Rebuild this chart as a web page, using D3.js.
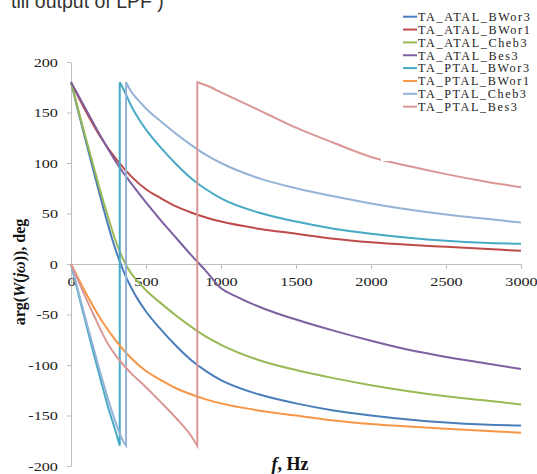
<!DOCTYPE html>
<html lang="en">
<head>
<meta charset="UTF-8">
<script src="https://d3js.org/d3.v7.min.js"></script>
<style>
  body { margin: 0; background: #fff; }
  svg { display: block; }
</style>
</head>
<body>
<div id="chart"></div>
<script>
// ATAL series: frequency (Hz) and phase (deg)
const ataBWor3Freq = [0, 50, 100, 150, 200, 250, 300, 350, 400, 450, 500, 600, 700, 800, 900, 1000, 1250, 1500, 1750, 2000, 2250, 2500, 2750, 3000];
const ataBWor3Val  = [180, 150, 121, 92, 64, 37, 13, -7, -23, -36, -47, -65, -81, -95, -106, -115, -129, -138, -145, -150, -154, -157, -159, -160];

const ataBWor1Freq = [0, 100, 200, 300, 400, 500, 600, 700, 800, 900, 1000, 1250, 1500, 1750, 2000, 2250, 2500, 2750, 3000];
const ataBWor1Val  = [180, 151, 125, 104, 87, 74, 65, 57, 51, 46, 42, 35, 30, 25, 21.5, 19, 17, 15, 13];

const ataCheb3Freq = [0, 50, 100, 150, 200, 250, 300, 350, 400, 450, 500, 600, 700, 800, 900, 1000, 1250, 1500, 1750, 2000, 2250, 2500, 2750, 3000];
const ataCheb3Val  = [180, 152, 124, 97, 70, 45, 22, 4, -9, -18, -26, -39, -51, -62, -72, -80, -95, -105, -113, -120, -126, -131, -135, -139];

const ataBes3Freq = [0, 100, 200, 300, 400, 500, 600, 700, 800, 900, 1000, 1100, 1200, 1300, 1500, 1750, 2000, 2250, 2500, 2750, 3000];
const ataBes3Val  = [180, 153, 126, 101, 80, 61, 43, 26, 9, -7, -24, -32, -39, -45, -55, -66, -76, -85, -92, -98, -104];

// PTAL series: the ones that wrap jump from -180 to +180
const ptaBWor1Freq = [0, 100, 200, 300, 400, 500, 600, 700, 800, 900, 1000, 1250, 1500, 1750, 2000, 2250, 2500, 2750, 3000];
const ptaBWor1Val  = [0, -29, -55, -76, -93, -106, -115, -123, -129, -134, -138, -145, -150, -155, -158.5, -161, -163, -165, -167];

const ptaBWor3Freq1 = [0, 50, 100, 150, 200, 250, 300, 325];
const ptaBWor3Val1  = [0, -30, -59, -88, -116, -143, -167, -180];
const ptaBWor3Freq2 = [325, 350, 400, 450, 500, 600, 700, 800, 900, 1000, 1250, 1500, 1750, 2000, 2250, 2500, 2750, 3000];
const ptaBWor3Val2  = [180, 173, 157, 144, 133, 115, 99, 85, 74, 65, 51, 42, 35, 30, 26, 23, 21, 20];

const ptaCheb3Freq1 = [0, 50, 100, 150, 200, 250, 300, 350, 367];
const ptaCheb3Val1  = [0, -28, -56, -83, -110, -135, -158, -176, -180];
const ptaCheb3Freq2 = [367, 400, 450, 500, 600, 700, 800, 900, 1000, 1250, 1500, 1750, 2000, 2250, 2500, 2750, 3000];
const ptaCheb3Val2  = [180, 171, 162, 154, 141, 129, 118, 108, 100, 85, 75, 67, 60, 54, 49, 45, 41];

const ptaBes3Freq1 = [0, 50, 100, 150, 200, 250, 300, 350, 400, 500, 600, 700, 800, 842];
const ptaBes3Val1  = [0, -17, -34, -50, -66, -80, -91, -100, -108, -122, -137, -152.5, -170, -180];
const ptaBes3Freq2 = [842, 900, 1000, 1100, 1200, 1300, 1500, 1750, 2000, 2250, 2500, 2750, 3000];
const ptaBes3Val2  = [180, 177, 170, 163, 156, 149, 135, 120, 106, 97, 89, 82, 76];

const xTicks = [0, 500, 1000, 1500, 2000, 2500, 3000];
const yTicks = [-200, -150, -100, -50, 0, 50, 100, 150, 200];

const zip = (fs, vs) => fs.map((f, i) => ({f: f, v: vs[i]}));

const series = [
  {name: "TA_ATAL_BWor3", color: "#4a7ebb", parts: [zip(ataBWor3Freq, ataBWor3Val)]},
  {name: "TA_ATAL_BWor1", color: "#be4b48", parts: [zip(ataBWor1Freq, ataBWor1Val)]},
  {name: "TA_ATAL_Cheb3", color: "#98b954", parts: [zip(ataCheb3Freq, ataCheb3Val)]},
  {name: "TA_ATAL_Bes3",  color: "#7d60a0", parts: [zip(ataBes3Freq, ataBes3Val)]},
  {name: "TA_PTAL_BWor3", color: "#46aac5", parts: [zip(ptaBWor3Freq1, ptaBWor3Val1), zip(ptaBWor3Freq2, ptaBWor3Val2)]},
  {name: "TA_PTAL_BWor1", color: "#f79646", parts: [zip(ptaBWor1Freq, ptaBWor1Val)]},
  {name: "TA_PTAL_Cheb3", color: "#95b3d7", parts: [zip(ptaCheb3Freq1, ptaCheb3Val1), zip(ptaCheb3Freq2, ptaCheb3Val2)]},
  {name: "TA_PTAL_Bes3",  color: "#d99795", parts: [zip(ptaBes3Freq1, ptaBes3Val1), zip(ptaBes3Freq2, ptaBes3Val2)]}
];

const serif = "'Liberation Serif', 'Times New Roman', serif";

const svg = d3.select("#chart")
  .append("svg")
  .attr("width", 537)
  .attr("height", 474);

const x = d3.scaleLinear().domain([0, 3000]).range([71, 521]);
const y = d3.scaleLinear().domain([-200, 200]).range([466, 62]);

// cropped caption at the top
svg.append("text")
  .attr("x", 11)
  .attr("y", 8)
  .style("font-family", "'Liberation Sans', Arial, sans-serif")
  .style("font-size", "19.5px")
  .style("fill", "#333")
  .text("till output of LPF )");

const yAxis = svg.append("g")
  .attr("transform", `translate(${x(0)},0)`)
  .call(d3.axisLeft(y).tickValues(yTicks).tickSize(4).tickSizeOuter(0).tickPadding(9).tickFormat(d => String(d)));

const xAxis = svg.append("g")
  .attr("transform", `translate(0,${y(0)})`)
  .call(d3.axisBottom(x).tickValues(xTicks).tickSize(5).tickSizeOuter(0).tickPadding(8).tickFormat(d => String(d)));

[yAxis, xAxis].forEach(function(g) {
  g.selectAll("path, line").attr("stroke", "#bfbfbf");
  g.selectAll("text")
    .style("font-family", serif)
    .style("font-size", "12.5px")
    .style("fill", "#222");
});

// the picture is a bit wide, so stretch tick labels horizontally
yAxis.selectAll(".tick text").each(function() {
  const t = d3.select(this);
  const tx = +t.attr("x");
  t.attr("x", 0).attr("transform", `translate(${tx},0) scale(1.3,1)`);
});
xAxis.selectAll(".tick text").attr("transform", "scale(1.3,1)");

const line = d3.line()
  .x(d => x(d.f))
  .y(d => y(d.v))
  .curve(d3.curveMonotoneX);

svg.append("g")
  .selectAll("path")
  .data(series)
  .join("path")
  .attr("fill", "none")
  .attr("stroke", d => d.color)
  .attr("stroke-width", 2)
  .attr("d", d => d.parts.map((p, i) => i == 0 ? line(p) : line(p).replace(/^M/, "L")).join(""));

// legend
const legend = svg.append("g");
legend.append("rect")
  .attr("x", 381).attr("y", 2)
  .attr("width", 156).attr("height", 159)
  .attr("fill", "#fff");

const rows = legend.selectAll("g")
  .data(series)
  .join("g")
  .attr("transform", (d, i) => `translate(0,${16.7 + i * 12.85})`);

rows.append("line")
  .attr("x1", 403).attr("x2", 417)
  .attr("stroke", d => d.color)
  .attr("stroke-width", 2);

rows.append("text")
  .attr("x", 418)
  .attr("dy", "0.35em")
  .style("font-family", serif)
  .style("font-size", "12.2px")
  .style("letter-spacing", "1.6px")
  .style("fill", "#222")
  .text(d => d.name);

// axis titles
const yTitle = svg.append("text")
  .attr("transform", "translate(25,272) rotate(-90)")
  .attr("text-anchor", "middle")
  .style("font-family", serif)
  .style("font-size", "16px")
  .style("font-weight", "bold")
  .style("fill", "#111");
yTitle.append("tspan").text("arg(");
yTitle.append("tspan").style("font-style", "italic").text("W");
yTitle.append("tspan").text("(");
yTitle.append("tspan").style("font-style", "italic").text("jω");
yTitle.append("tspan").text(")), deg");

const xTitle = svg.append("text")
  .attr("x", 290)
  .attr("y", 470)
  .attr("text-anchor", "middle")
  .style("font-family", serif)
  .style("font-size", "18px")
  .style("font-weight", "bold")
  .style("fill", "#111");
xTitle.append("tspan").style("font-style", "italic").text("f");
xTitle.append("tspan").text(", Hz");
</script>
</body>
</html>
